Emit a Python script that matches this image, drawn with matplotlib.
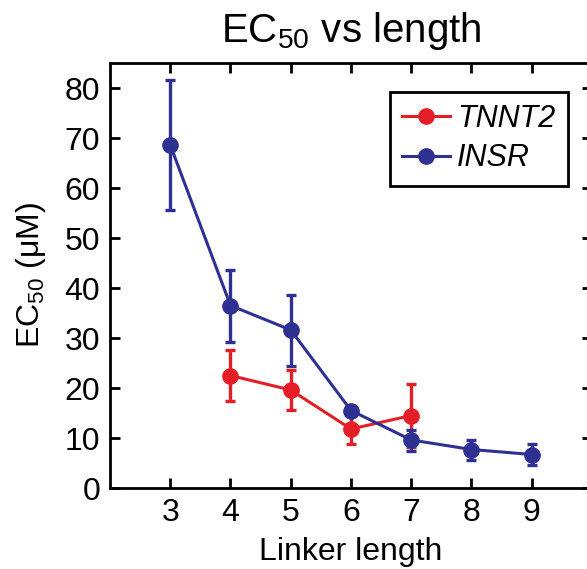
import matplotlib

matplotlib.use("Agg")
import matplotlib.pyplot as plt
from matplotlib.lines import Line2D

plt.rcParams["font.family"] = ["Liberation Sans", "DejaVu Sans"]
plt.rcParams["mathtext.fontset"] = "custom"
plt.rcParams["mathtext.rm"] = "Liberation Sans"
plt.rcParams["mathtext.it"] = "Liberation Sans:italic"

# --- data ---
tnnt2_len = [4, 5, 6, 7]
tnnt2_ec50 = [22.5, 19.6, 11.8, 14.5]
tnnt2_err = [5.1, 4.0, 3.0, 6.3]

insr_len = [3, 4, 5, 6, 7, 8, 9]
insr_ec50 = [68.6, 36.5, 31.6, 15.5, 9.6, 7.7, 6.7]
insr_err = [13.0, 7.2, 7.1, 0.9, 2.1, 2.0, 2.1]

x_ticks = [3, 4, 5, 6, 7, 8, 9]
y_ticks = [0, 10, 20, 30, 40, 50, 60, 70, 80]

red = "#E41E26"
blue = "#2E3192"

fig = plt.figure(figsize=(5.87, 5.69), dpi=100)
ax = fig.add_axes([110 / 587, 81 / 569, 482 / 587, 425 / 569])

common = dict(marker="o", markersize=11, linewidth=2.2, elinewidth=2.4,
              capsize=3.5, capthick=2.4)
ax.errorbar(tnnt2_len, tnnt2_ec50, yerr=tnnt2_err, color=red, **common)
ax.errorbar(insr_len, insr_ec50, yerr=insr_err, color=blue, **common)

ax.set_xlim(2, 10)
ax.set_ylim(0, 85)
ax.set_xticks(x_ticks)
ax.set_yticks(y_ticks)
ax.tick_params(direction="in", length=7, width=2, labelsize=23,
               top=True, right=True, pad=7)
for s in ax.spines.values():
    s.set_linewidth(2)

ax.set_xlabel("Linker length", fontsize=23, labelpad=7)
ax.set_ylabel(r"EC$_{50}$ ($\mathrm{\mu}$M)", fontsize=23, labelpad=12)
ax.set_title(r"EC$_{50}$ vs length", fontsize=29, pad=15)

handles = [
    Line2D([], [], color=red, marker="o", markersize=11, linewidth=2.2),
    Line2D([], [], color=blue, marker="o", markersize=11, linewidth=2.2),
]
leg = ax.legend(handles, ["TNNT2", "INSR"], loc="upper left",
                bbox_to_anchor=(0.581, 0.932), borderaxespad=0,
                prop={"style": "italic", "size": 22},
                frameon=True, fancybox=False, edgecolor="black", framealpha=1,
                handlelength=1.55, handletextpad=0.25, borderpad=0.4,
                labelspacing=0.3)
leg.get_frame().set_linewidth(2)

fig.savefig("out.png", dpi=100)
